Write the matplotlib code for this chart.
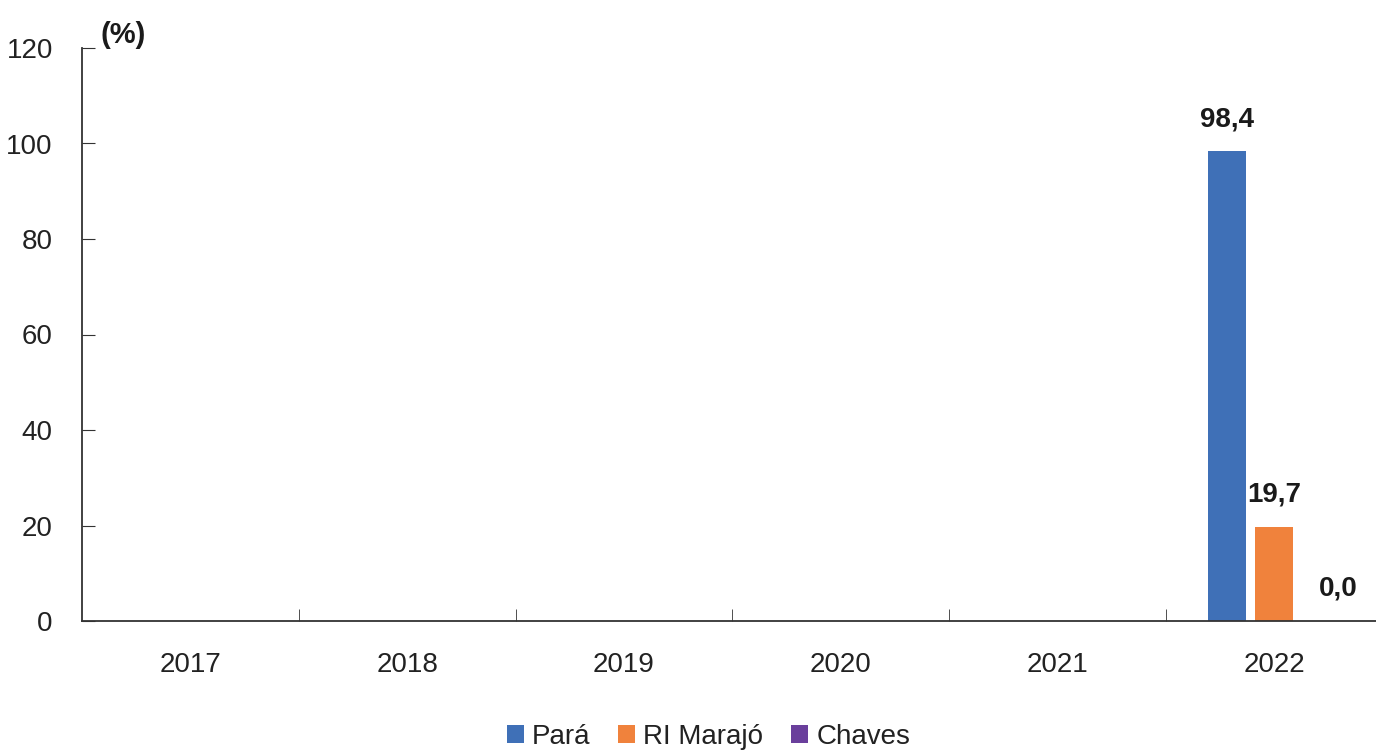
import matplotlib.pyplot as plt
import numpy as np

plt.rcParams['font.family'] = ['Liberation Sans Narrow', 'Liberation Sans', 'DejaVu Sans']

anos = ["2017", "2018", "2019", "2020", "2021", "2022"]
series = ["Pará", "RI Marajó", "Chaves"]
para = [np.nan, np.nan, np.nan, np.nan, np.nan, 98.4]
marajo = [np.nan, np.nan, np.nan, np.nan, np.nan, 19.7]
chaves = [np.nan, np.nan, np.nan, np.nan, np.nan, 0.0]
cores = ["#3F70B7", "#F0823C", "#6A3F9C"]

fig = plt.figure(figsize=(13.76, 7.51), dpi=100)
ax = fig.add_axes([82 / 1376, 1 - 621 / 751, 1 - 82 / 1376, (621 - 48) / 751])

x = np.arange(len(anos))
largura = 0.175
passo = 0.217
for i, (nome, vals) in enumerate(zip(series, [para, marajo, chaves])):
    pos = x + (i - 1) * passo
    ax.bar(pos, vals, width=largura, color=cores[i], label=nome)
    for p, v in zip(pos, vals):
        if not np.isnan(v):
            ax.text(p + (0.08 if v == 0 else 0), v + 4, f"{v:.1f}".replace(".", ","),
                    ha="center", va="bottom", fontsize=20, fontweight="bold", color="#1a1a1a")

ax.set_xlim(-0.5, 5.47)
ax.set_ylim(0, 120)
ax.set_yticks(range(0, 121, 20))
ax.set_xticks(x)
ax.set_xticklabels(anos)
ax.set_xticks(np.arange(0.5, 5.0, 1), minor=True)
ax.tick_params(axis="x", which="major", length=0, pad=22, labelsize=20, labelcolor="#222222")
ax.tick_params(axis="x", which="minor", direction="in", length=9, color="#333333")
ax.tick_params(axis="y", direction="in", length=9, pad=21, labelsize=20,
               labelcolor="#222222", color="#333333")
for s in ["top", "right"]:
    ax.spines[s].set_visible(False)
for s in ["left", "bottom"]:
    ax.spines[s].set_color("#333333")
    ax.spines[s].set_linewidth(1.3)

fig.text(100 / 1376, 1 - 35 / 751, "(%)", fontsize=21, fontweight="bold",
         ha="left", va="center", color="#1a1a1a")

fig.legend(loc="center", bbox_to_anchor=(0.515, 1 - 737 / 751), ncol=3, frameon=False,
           fontsize=20, handlelength=0.6, handleheight=0.6, handletextpad=0.3,
           columnspacing=1.0, labelcolor="#222222")

fig.savefig("out.png", dpi=100)
